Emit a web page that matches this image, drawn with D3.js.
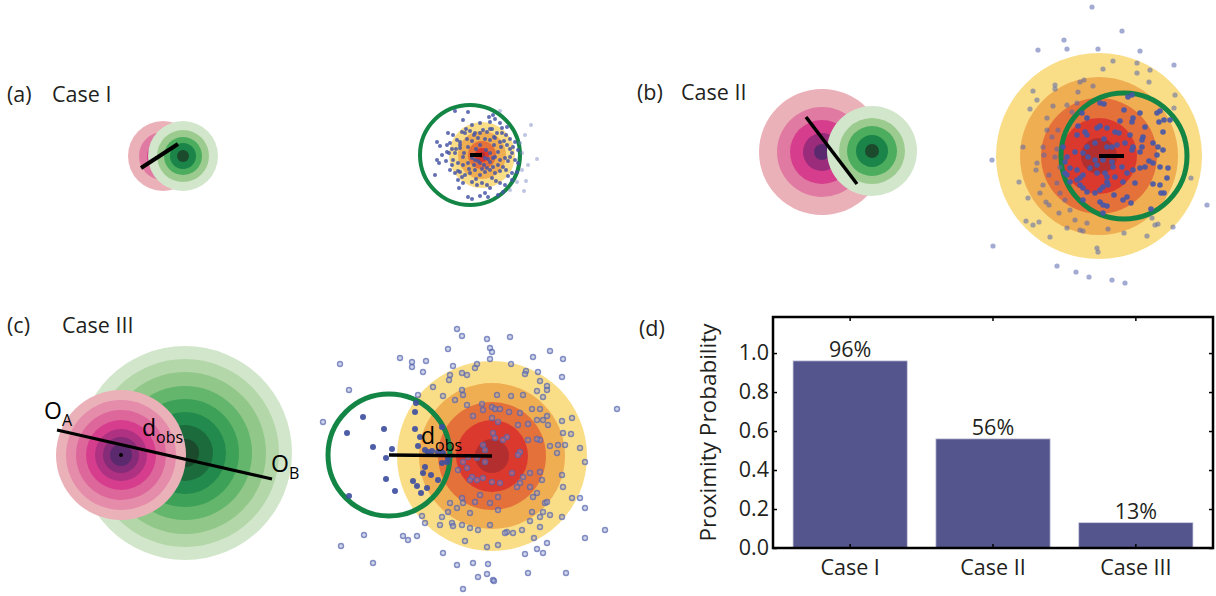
<!DOCTYPE html>
<html>
<head>
<meta charset="utf-8">
<script src="https://cdn.jsdelivr.net/npm/d3@7"></script>
<style>
  html, body { margin: 0; padding: 0; background: #fff; }
  svg { display: block; font-family: "Open Sans", sans-serif; }
</style>
</head>
<body>
<svg id="fig" width="1216" height="596"></svg>
<script>
// ---------- bar chart data (panel d) ----------
const categories = ["Case I", "Case II", "Case III"];
const proximity = [0.96, 0.56, 0.13];
const proximityLabels = ["96%", "56%", "13%"];
const yTickValues = [0, 0.2, 0.4, 0.6, 0.8, 1.0];

// ---------- Case I ----------
// contour radii of the two source distributions (A pink, B green), centres in local units
const caseISourceA = [0, 0];
const caseIRingsA = [35, 24, 16, 9, 4];
const caseISourceB = [20, 0];
const caseIRingsB = [35, 26, 19, 13, 6];
const caseISegment = [[-22, 12], [15, -12]];
// density of the sampled separation vectors and the observed-distance circle [cx, cy, r]
const caseIKdeRings = [33, 24, 14, 7, 3];
const caseIObs = [-12, 0, 50];
const caseISamples = [
  [-27,-44],[-14,-43],[11,-40],[7,-38],[18,-44],[-19,-35],[-10,-30],[-2,-32],[8,-33],[13,-36],
  [18,-32],[25,-28],[-34,-22],[-29,-20],[-20,-23],[-17,-22],[-12,-24],[-7,-22],[1,-25],[5,-23],
  [10,-26],[15,-22],[20,-22],[24,-20],[28,-16],[33,-13],[38,-12],[-45,-13],[-42,-9],[-35,-10],
  [-32,-12],[-25,-15],[-22,-13],[-15,-16],[-10,-14],[-4,-17],[3,-16],[8,-15],[13,-17],[18,-13],
  [25,-10],[31,-8],[36,-5],[40,-2],[-45,5],[-43,8],[-40,0],[-35,-3],[-30,-6],[-27,-2],
  [-22,-7],[-19,2],[-29,5],[-24,8],[-19,10],[-14,8],[-7,5],[-2,8],[3,3],[8,7],
  [13,2],[18,5],[23,3],[28,2],[33,5],[36,8],[-32,15],[-27,18],[-22,17],[-17,20],
  [-12,18],[-7,15],[-2,20],[3,17],[8,15],[13,18],[18,16],[24,15],[30,18],[35,17],
  [-47,20],[-24,25],[-19,28],[-10,27],[-5,30],[0,28],[5,30],[8,33],[18,28],[23,30],
  [30,25],[35,27],[40,15],[-23,33],[-14,42],[-10,44],[-2,41],[3,38],[6,42],[16,40],
  [21,37],[28,35],[55,4],
  [-6,-6],[-2,-10],[4,-5],[8,-2],[12,-10],[-14,-8],[-18,-2],[-10,3],[-4,6],[2,10],
  [6,4],[11,3],[16,-3],[19,-8],[22,-14],[-22,-10],[-26,-6],[-13,14],[-8,10],[0,14],
  [5,13],[11,12],[16,10],[21,12],[26,6],[-24,16],[-30,10],[-36,6],[-20,22],[-6,24],
  [10,23],[14,26],[26,21],[-16,-26],[-2,-22],[8,-26],[20,-27],[28,-6],[-33,-2],[-8,-20],
  [12,-18],[30,-2],[43,-20],[46,10],[44,26],[49,-30],[42,36]
];

// ---------- Case II ----------
const caseIISourceA = [0, 0];
const caseIIRingsA = [63, 45, 32, 19, 8];
const caseIISourceB = [50, -1];
const caseIIRingsB = [45, 33, 25, 16, 7];
const caseIISegment = [[-16, -35], [35, 32]];
const caseIIKdeRings = [103, 79, 58, 38, 18];
const caseIIObs = [25, 0, 63];
const caseIISamples = [
  [-7,-149],[23,-125],[-35,-116],[-32,-107],[-61,-106],[-1,-107],[41,-105],[14,-95],[75,-91],[38,-93],
  [51,-86],[4,-87],[38,-83],[50,-74],[76,-61],[75,-48],[-44,-71],[-44,-67],[-66,-65],[-62,-56],
  [-69,-47],[-19,-74],[-15,-76],[-6,-70],[-21,-64],[-52,-38],[-76,-9],[-107,4],[-80,26],[-71,42],
  [-73,65],[-66,69],[-60,66],[-49,81],[-106,90],[-42,110],[-23,116],[-10,121],[13,124],[26,127],
  [-2,92],[-1,96],[25,77],[48,80],[56,69],[59,68],[74,71],[53,62],[52,53],[92,22],
  [108,49],[9,73],[-19,74],[-16,75],[-12,67],[-32,72],[-24,64],[-40,57],[-53,46],[-50,49],
  [-59,37],[-56,29],[-63,14],[-62,7],[-55,-1],[-50,19],[-56,-9],[-52,-26],[-41,-26],[-47,-19],
  [-42,-7],[-44,1],[-39,11],[-42,27],[-39,37],[-34,44],[-29,54],[-46,-50],[-32,-51],[-22,-53],
  [-27,-44],[64,-24],[71,-36],[65,37],[68,22],
  [29,-59],[33,-61],[1,-53],[5,-52],[-17,-43],[-12,-38],[25,-46],[41,-43],[34,-38],[33,-34],
  [58,-43],[61,-45],[65,-36],[60,-34],[46,-29],[21,-35],[-2,-28],[1,-30],[8,-28],[16,-24],
  [20,-23],[31,-21],[44,-19],[43,-16],[-12,-21],[-14,-24],[-21,-30],[-22,-21],[5,-17],[-4,-13],
  [8,-9],[13,-9],[18,-11],[26,-13],[34,-9],[33,-6],[43,-9],[41,-4],[54,-13],[59,-9],
  [64,-6],[58,-1],[50,5],[54,7],[61,11],[69,12],[61,29],[62,37],[54,28],[46,11],
  [41,12],[34,14],[28,17],[23,11],[14,11],[13,6],[4,4],[-4,4],[-11,1],[-16,-3],
  [-12,-9],[-24,-4],[-32,1],[-36,-9],[-34,6],[-29,12],[-34,17],[-32,19],[-29,26],[-22,24],
  [-19,22],[-22,14],[-16,19],[-9,12],[-2,9],[-2,17],[6,17],[8,21],[8,26],[9,29],
  [16,21],[4,31],[1,34],[-4,37],[-12,36],[-16,32],[-19,29],[-16,44],[1,46],[4,49],
  [8,50],[4,57],[15,39],[24,44],[28,41],[32,47],[36,27],[24,26]
];

// ---------- Case III ----------
const caseIIISourceA = [0, 0];
const caseIIIRingsA = [65, 55, 45, 35, 26, 18, 11];
const caseIIISourceB = [64, -2];
const caseIIIRingsB = [107, 94, 81, 67, 54, 41, 28, 14];
const caseIIISegment = [[-64, -25], [151, 24]];
const caseIIIKdeRings = [95, 73, 54, 36, 17];
const caseIIIObs = [-103, -1, 61];
const caseIIISamples = [
  [-129,-39],[-145,-23],[-108,-27],[-119,-9],[-100,-7],[-106,2],[-106,23],[-97,35],[-143,40],[-77,-44],
  [-76,-53],[-74,-61],[-77,-27],[-72,-19],[-74,-10],[-67,-6],[-64,-4],[-60,-5],[-50,-29],[-54,-4],
  [-49,-3],[-50,7],[-45,6],[-67,11],[-69,17],[-61,19],[-54,24],[-79,25],[-75,30],[-65,32],
  [-71,37],[-44,2],
  [-35,-127],[-30,-120],[-5,-117],[18,-119],[-2,-108],[0,-104],[-44,-107],[-92,-98],[-80,-94],[-80,-89],
  [-66,-95],[-69,-84],[-152,-92],[-143,-66],[-169,-34],[-39,-90],[-17,-88],[-15,-92],[-2,-97],[19,-92],
  [41,-99],[58,-105],[71,-97],[46,-84],[34,-85],[33,-82],[70,-79],[48,-75],[55,-70],[55,-66],
  [45,-65],[51,-59],[31,-61],[19,-60],[5,-61],[125,-47],[-30,-83],[-25,-81],[-42,-81],[-43,-76],
  [-59,-69],[-49,-60],[-37,-56],[-30,-66],[-29,-61],[-25,-51],[-10,-52],[0,-49],[3,-47],[8,-47],
  [-9,-46],[-19,-40],[0,-38],[6,-34],[17,-44],[28,-43],[40,-47],[48,-47],[55,-40],[51,-36],
  [70,-35],[80,-38],[36,-32],[45,-36],[26,-31],[56,-31],[71,-23],[79,-22],[48,-16],[45,-17],
  [58,-10],[66,-11],[73,-11],[88,-8],[93,6],[65,-3],[36,-16],[28,-4],[26,-1],[15,-19],
  [11,-16],[1,-23],[3,-18],[-9,-11],[-7,-6],[-15,2],[-7,6],[-24,1],[-29,6],[-25,12],
  [-34,14],[-20,21],[-22,24],[-15,24],[-9,22],[0,26],[8,27],[20,17],[28,27],[25,31],
  [31,21],[38,17],[48,16],[50,24],[38,31],[45,37],[41,41],[53,47],[55,46],[70,19],
  [71,31],[80,42],[70,61],[88,42],[93,52],[113,74],[93,82],[74,117],[58,59],[51,56],
  [48,61],[40,56],[38,65],[48,71],[55,87],[45,93],[51,97],[42,82],[30,74],[21,77],
  [15,76],[6,54],[-2,47],[6,41],[-12,39],[-17,46],[-30,42],[-29,47],[-35,52],[-42,47],
  [-44,56],[-50,61],[-40,67],[-39,70],[-30,69],[-22,57],[-22,72],[-14,74],[-2,69],[-27,85],
  [-5,91],[6,89],[-70,60],[-67,67],[-52,69],[-89,80],[-84,84],[-75,80],[-128,79],[-151,90],
  [-119,107],[-49,97],[-35,109],[-19,107],[-4,108],[-14,121],[-5,118],[1,124],[2,125],[-29,133],
  [36,117],[33,98],[13,77]
];

// ---------- colour ramps ----------
const pinkPalette = ["#ebb1b9", "#e07aa2", "#d63e8d", "#9a2c7b", "#5b2a6e"];
const greenPalette = ["#d2e6cb", "#9ccb8f", "#4cad5e", "#1b8449", "#1b4a2c"];
const kdePalette = ["#f9dd87", "#f0ae52", "#e4703a", "#dc392e", "#b32f2f"];
const ink = "#231f20";
const obsGreen = "#138544";
const textSize = 21.5;

const svg = d3.select("#fig");

// local frame: one unit = one pixel, anchored at an origin on the page
function frame(ox, oy) {
  const x = d3.scaleLinear().domain([0, 100]).range([ox, ox + 100]);
  const y = d3.scaleLinear().domain([0, 100]).range([oy, oy + 100]);
  const r = d => x(d) - x(0);
  return { x, y, r };
}

function rings(g, f, centre, radii, palette) {
  const col = d3.piecewise(d3.interpolateRgb, palette);
  g.append("g").selectAll("circle").data(radii).join("circle")
    .attr("cx", f.x(centre[0])).attr("cy", f.y(centre[1]))
    .attr("r", d => f.r(d))
    .attr("fill", (d, i) => col(radii.length > 1 ? i / (radii.length - 1) : 0));
}

function segment(g, f, seg, width) {
  g.append("line")
    .attr("x1", f.x(seg[0][0])).attr("y1", f.y(seg[0][1]))
    .attr("x2", f.x(seg[1][0])).attr("y2", f.y(seg[1][1]))
    .attr("stroke", "#000").attr("stroke-width", width);
}

function obsCircle(g, f, obs, width) {
  g.append("circle")
    .attr("cx", f.x(obs[0])).attr("cy", f.y(obs[1])).attr("r", f.r(obs[2]))
    .attr("fill", "none").attr("stroke", obsGreen).attr("stroke-width", width);
}

function samples(g, f, pts, obs, style) {
  const inside = d => Math.hypot(d[0] - obs[0], d[1] - obs[1]) < obs[2];
  const sel = g.append("g").selectAll("circle")
    .data(pts.slice().sort((a, b) => inside(a) - inside(b)))
    .join("circle")
    .attr("cx", d => f.x(d[0])).attr("cy", d => f.y(d[1]));
  sel.each(function (d) {
    const s = inside(d) ? style.in : style.out;
    const c = d3.select(this).attr("r", s.r).attr("fill", s.fill).attr("fill-opacity", s.fo);
    if (s.stroke) c.attr("stroke", s.stroke).attr("stroke-opacity", s.so).attr("stroke-width", s.sw);
  });
}

function centreDash(g, f, obs, width) {
  g.append("line")
    .attr("x1", f.x(obs[0])).attr("y1", f.y(obs[1]))
    .attr("x2", f.x(0)).attr("y2", f.y(0))
    .attr("stroke", "#000").attr("stroke-width", width);
}

function subLabel(g, x, y, main, sub, size, subSize) {
  const t = g.append("text").attr("x", x).attr("y", y)
    .attr("font-size", size).attr("fill", "#000");
  t.append("tspan").text(main);
  t.append("tspan").attr("font-size", subSize).attr("dy", subSize * 0.45).text(sub);
}

function panelTitle(x, y, tag, titleX, title) {
  svg.append("text").attr("x", x).attr("y", y).attr("font-size", textSize).attr("fill", ink).text(tag);
  if (title) svg.append("text").attr("x", titleX).attr("y", y).attr("font-size", textSize).attr("fill", ink).text(title);
}

// ---------- panel (a) ----------
panelTitle(7, 102, "(a)", 52, "Case I");
{
  const g = svg.append("g");
  const f = frame(163, 156);
  rings(g, f, caseISourceA, caseIRingsA, pinkPalette);
  rings(g, f, caseISourceB, caseIRingsB, greenPalette);
  segment(g, f, caseISegment, 4);

  const h = svg.append("g");
  const k = frame(482, 155);
  rings(h, k, [0, 0], caseIKdeRings, kdePalette);
  obsCircle(h, k, caseIObs, 4);
  samples(h, k, caseISamples, caseIObs, {
    in: { r: 2, fill: "#4656a6", fo: 0.85 },
    out: { r: 2, fill: "#6f7dbd", fo: 0.45 }
  });
  centreDash(h, k, caseIObs, 4);
}

// ---------- panel (b) ----------
panelTitle(637, 100, "(b)", 681, "Case II");
{
  const g = svg.append("g");
  const f = frame(822, 152);
  rings(g, f, caseIISourceA, caseIIRingsA, pinkPalette);
  rings(g, f, caseIISourceB, caseIIRingsB, greenPalette);
  segment(g, f, caseIISegment, 3.5);

  const h = svg.append("g");
  const k = frame(1099, 156);
  rings(h, k, [0, 0], caseIIKdeRings, kdePalette);
  obsCircle(h, k, caseIIObs, 5);
  samples(h, k, caseIISamples, caseIIObs, {
    in: { r: 2.8, fill: "#4757a7", fo: 0.92 },
    out: { r: 2.6, fill: "#5866ad", fo: 0.55 }
  });
  centreDash(h, k, caseIIObs, 4);
}

// ---------- panel (c) ----------
panelTitle(7, 333, "(c)", 62, "Case III");
{
  const g = svg.append("g");
  const f = frame(121, 455);
  rings(g, f, caseIIISourceB, caseIIIRingsB, greenPalette);
  rings(g, f, caseIIISourceA, caseIIIRingsA, pinkPalette);
  g.append("circle").attr("cx", f.x(caseIIISourceA[0])).attr("cy", f.y(caseIIISourceA[1]))
    .attr("r", 2).attr("fill", "#000");
  segment(g, f, caseIIISegment, 3.3);
  subLabel(g, f.x(-77), f.y(-36), "O", "A", 23, 16);
  subLabel(g, f.x(21), f.y(-19), "d", "obs", 23, 16);
  subLabel(g, f.x(150), f.y(17), "O", "B", 23, 16);

  const h = svg.append("g");
  const k = frame(492, 456);
  rings(h, k, [0, 0], caseIIIKdeRings, kdePalette);
  obsCircle(h, k, caseIIIObs, 5);
  samples(h, k, caseIIISamples, caseIIIObs, {
    in: { r: 3, fill: "#3f4f9f", fo: 0.92 },
    out: { r: 2.5, fill: "#8f99cf", fo: 0.4, stroke: "#5464ae", so: 0.7, sw: 1.4 }
  });
  centreDash(h, k, caseIIIObs, 3.5);
  subLabel(h, k.x(-71), k.y(-12), "d", "obs", 23, 16);
}

// ---------- panel (d): proximity probability bars ----------
panelTitle(639, 336, "(d)");
{
  const box = { left: 773, right: 1213, top: 317, bottom: 548 };
  const x = d3.scaleBand().domain(categories).range([box.left, box.right])
    .paddingInner(0.2).paddingOuter(0.14);
  const y = d3.scaleLinear().domain([0, 1.185]).range([box.bottom, box.top]);
  const g = svg.append("g").attr("font-size", textSize).attr("fill", ink);

  g.selectAll("rect.bar").data(categories).join("rect")
    .attr("class", "bar")
    .attr("x", d => x(d)).attr("width", x.bandwidth())
    .attr("y", (d, i) => y(proximity[i]))
    .attr("height", (d, i) => y(0) - y(proximity[i]))
    .attr("fill", "#54558d").attr("stroke", "#cfd0e2").attr("stroke-width", 0.8);

  g.selectAll("text.val").data(categories).join("text")
    .attr("class", "val")
    .attr("x", d => x(d) + x.bandwidth() / 2)
    .attr("y", (d, i) => y(proximity[i]) - 4)
    .attr("text-anchor", "middle").attr("font-size", textSize).attr("fill", ink)
    .text((d, i) => proximityLabels[i]);

  const styleAxis = sel => {
    sel.select(".domain").remove();
    sel.selectAll(".tick line").attr("stroke", "#000").attr("stroke-width", 1.5);
    sel.selectAll(".tick text").attr("font-family", "Open Sans, sans-serif")
      .attr("font-size", textSize).attr("fill", ink);
  };

  g.append("g").attr("transform", `translate(${box.left},0)`)
    .call(d3.axisLeft(y).tickValues(yTickValues).tickFormat(d3.format(".1f")).tickSize(-4).tickPadding(4))
    .call(styleAxis);
  g.append("g").attr("transform", `translate(${box.right},0)`)
    .call(d3.axisRight(y).tickValues(yTickValues).tickFormat("").tickSize(-4))
    .call(styleAxis);
  g.append("g").attr("transform", `translate(0,${box.bottom})`)
    .call(d3.axisBottom(x).tickSize(-4).tickPadding(12))
    .call(styleAxis);
  g.append("g").attr("transform", `translate(0,${box.top})`)
    .call(d3.axisTop(x).tickFormat("").tickSize(-4))
    .call(styleAxis);

  g.append("rect")
    .attr("x", box.left).attr("y", box.top)
    .attr("width", box.right - box.left).attr("height", box.bottom - box.top)
    .attr("fill", "none").attr("stroke", "#000").attr("stroke-width", 2.5);

  g.append("text")
    .attr("transform", `translate(716,${(box.top + box.bottom) / 2}) rotate(-90)`)
    .attr("text-anchor", "middle").attr("font-size", 22.5).attr("fill", ink)
    .text("Proximity Probability");
}
</script>
</body>
</html>
